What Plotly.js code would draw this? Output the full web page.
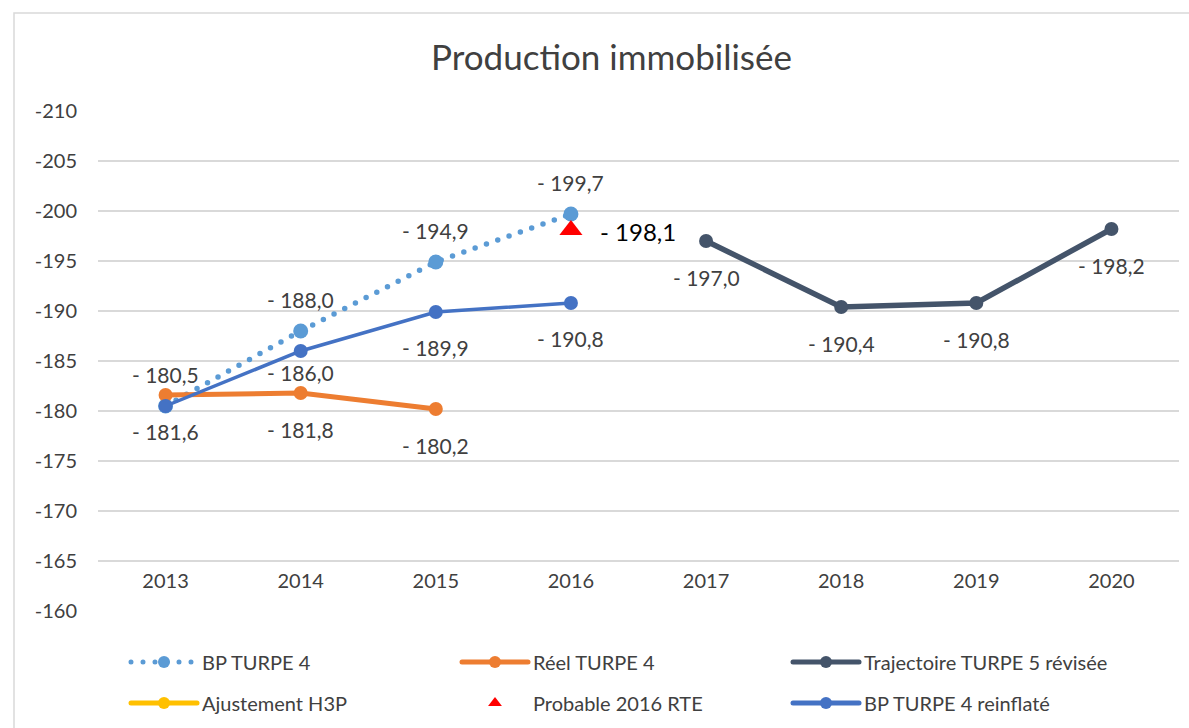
<!DOCTYPE html>
<html>
<head>
<meta charset="utf-8">
<script src="https://cdn.plot.ly/plotly-3.0.1.min.js"></script>
<style>
html, body { margin: 0; padding: 0; background: #ffffff; }
#chart { width: 1189px; height: 728px; }
.js-line { stroke-linecap: round; }
</style>
</head>
<body>
<div id="chart"></div>
<script>
// ---- data ----
const years = ['2013', '2014', '2015', '2016', '2017', '2018', '2019', '2020'];
const bpTurpe4 = [-180.5, -188.0, -194.9, -199.7, null, null, null, null];
const reelTurpe4 = [-181.6, -181.8, -180.2, null, null, null, null, null];
const trajectoireTurpe5 = [null, null, null, null, -197.0, -190.4, -190.8, -198.2];
const ajustementH3P = [null, null, null, null, null, null, null, null];
const probable2016RTE = [null, null, null, -198.1, null, null, null, null];
const bpTurpe4Reinflate = [-180.5, -186.0, -189.9, -190.8, null, null, null, null];
const yTickVals = [-210, -205, -200, -195, -190, -185, -180, -175, -170, -165, -160];
const yTickText = ['-210', '-205', '-200', '-195', '-190', '-185', '-180', '-175', '-170', '-165', '-160'];

// ---- styling ----
const FONT = 'Lato, "Open Sans", sans-serif';
const TXT = '#404040';

function fmt(v) { return '- ' + Math.abs(v).toFixed(1).replace('.', ','); }

const annotations = [];
function addLabels(vals, yshift, opts) {
  opts = opts || {};
  vals.forEach(function (v, i) {
    if (v === null) return;
    if (opts.skip && opts.skip.indexOf(i) >= 0) return;
    let ys = yshift;
    if (opts.nudge && opts.nudge[i] !== undefined) ys = opts.nudge[i];
    annotations.push({
      x: i, y: v, xref: 'x', yref: 'y',
      text: fmt(v), showarrow: false,
      xanchor: opts.xanchor || 'center', yanchor: 'middle',
      xshift: opts.xshift || 0, yshift: ys,
      font: { family: FONT, size: opts.size || 21, color: opts.color || TXT }
    });
  });
}
addLabels(bpTurpe4, 32);
addLabels(reelTurpe4, -36);
addLabels(trajectoireTurpe5, -36);
addLabels(bpTurpe4Reinflate, -35, { skip: [0], nudge: { 1: -21 } });
addLabels(probable2016RTE, -1, { xanchor: 'left', xshift: 27, size: 24, color: '#000000' });

const traces = [
  {
    name: 'BP TURPE 4', x: years, y: bpTurpe4, type: 'scatter', mode: 'lines+markers',
    line: { color: '#5B9BD5', width: 5.5, dash: '0px,12px' },
    marker: { color: '#5B9BD5', size: 15 }, legend: 'legend'
  },
  {
    name: 'Réel TURPE 4', x: years, y: reelTurpe4, type: 'scatter', mode: 'lines+markers',
    line: { color: '#ED7D31', width: 5 },
    marker: { color: '#ED7D31', size: 14 }, legend: 'legend'
  },
  {
    name: 'Trajectoire TURPE 5 révisée', x: years, y: trajectoireTurpe5, type: 'scatter', mode: 'lines+markers',
    line: { color: '#44546A', width: 5.5 },
    marker: { color: '#44546A', size: 14 }, legend: 'legend'
  },
  {
    name: 'Ajustement H3P', x: years, y: ajustementH3P, type: 'scatter', mode: 'lines+markers',
    line: { color: '#FFC000', width: 5 },
    marker: { color: '#FFC000', size: 14 }, legend: 'legend2'
  },
  {
    name: 'Probable 2016 RTE', x: years, y: probable2016RTE, type: 'scatter', mode: 'markers',
    marker: { color: '#FF0000', size: 20, symbol: 'triangle-up' }, legend: 'legend2'
  },
  {
    name: 'BP TURPE 4 reinflaté', x: years, y: bpTurpe4Reinflate, type: 'scatter', mode: 'lines+markers',
    line: { color: '#4472C4', width: 3.5 },
    marker: { color: '#4472C4', size: 14 }, legend: 'legend2'
  }
];

const W = 1189, H = 728;
const legendCommon = {
  orientation: 'h', xref: 'container', yref: 'container',
  xanchor: 'left', yanchor: 'middle',
  entrywidth: 250, entrywidthmode: 'pixels',
  itemwidth: 66, itemsizing: 'constant',
  bgcolor: 'rgba(0,0,0,0)', borderwidth: 0,
  font: { family: FONT, size: 20, color: TXT },
  traceorder: 'normal'
};

const layout = {
  width: W, height: H,
  paper_bgcolor: '#ffffff', plot_bgcolor: '#ffffff',
  margin: { l: 98, r: 10, t: 111, b: 117, pad: 0 },
  title: {
    text: 'Production immobilisée',
    font: { family: FONT, size: 35, color: TXT },
    xref: 'container', yref: 'container',
    x: 611.5 / W, xanchor: 'center', y: 1 - 58 / H, yanchor: 'middle'
  },
  xaxis: {
    type: 'category', range: [-0.5, 7.5],
    anchor: 'free', position: 0.1,
    showgrid: false, showline: false, zeroline: false, ticks: '',
    tickfont: { family: FONT, size: 20, color: TXT },
    ticklabelstandoff: 6, fixedrange: true
  },
  yaxis: {
    range: [-160, -210], domain: [0, 1],
    tickvals: yTickVals, ticktext: yTickText,
    showgrid: true, gridcolor: '#D9D9D9', gridwidth: 1.5,
    showline: false, zeroline: false, ticks: '',
    tickfont: { family: FONT, size: 20, color: TXT },
    ticklabelstandoff: 20, fixedrange: true
  },
  showlegend: true,
  legend: Object.assign({}, legendCommon, { x: 126 / W, y: 1 - 662 / H }),
  legend2: Object.assign({}, legendCommon, { x: 126 / W, y: 1 - 703 / H }),
  annotations: annotations,
  shapes: [{
    type: 'rect', xref: 'paper', yref: 'paper', layer: 'below',
    x0: (14 - 98) / 1081, x1: 1.2, y0: -0.4, y1: 1 + (111 - 13) / 500,
    line: { color: '#D9D9D9', width: 1.5 }, fillcolor: 'rgba(0,0,0,0)'
  }],
  hovermode: false
};

Plotly.newPlot('chart', traces, layout, { staticPlot: true, displayModeBar: false });
</script>
</body>
</html>
